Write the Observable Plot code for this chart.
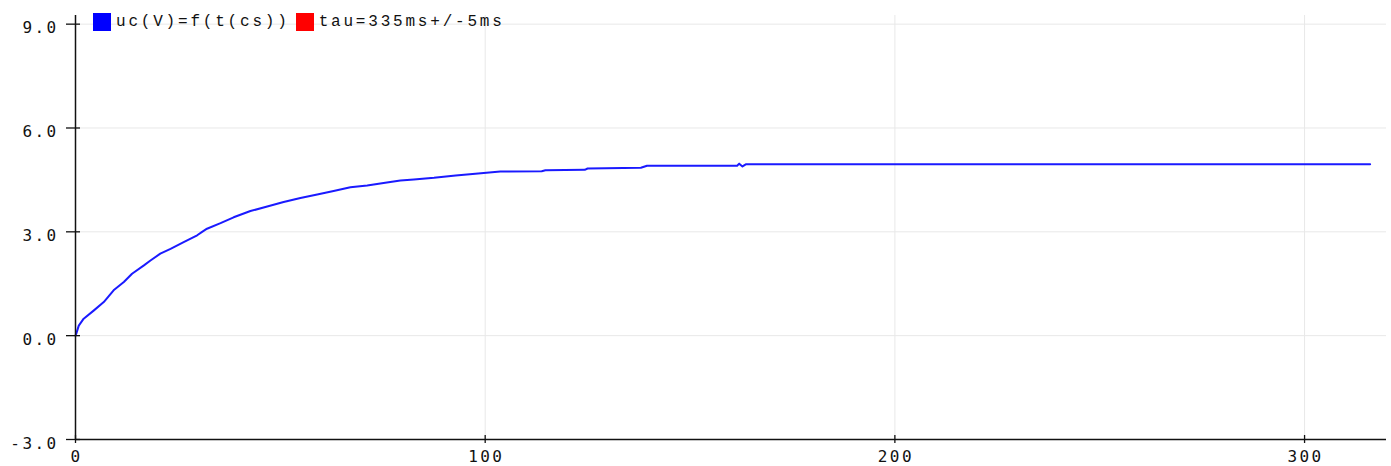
<!DOCTYPE html>
<html><head><meta charset="utf-8">
<script src="https://cdn.jsdelivr.net/npm/d3@7"></script>
<script src="https://cdn.jsdelivr.net/npm/@observablehq/plot@0.6"></script>
<style>
body{margin:0;background:#fff;}
#wrap{position:relative;width:1391px;height:466px;}
#legend{position:absolute;left:93px;top:13px;display:flex;align-items:center;font-family:"Liberation Mono",monospace;font-size:16px;letter-spacing:2.8px;color:#111;height:18px;}
.sw{width:18px;height:18px;display:inline-block;margin-right:5px;}
.lab{margin-right:6px;}
svg text{letter-spacing:2.4px;}
</style></head><body><div id="wrap"><div id="legend"></div></div>
<script>
const t = [0, 0.25, 0.8, 2.0, 4.5, 6.9, 9.3, 11.8, 13.8, 16.7, 18.3, 20.7, 23.2, 26.4, 29.7, 30.9, 32.1, 35.4, 38.6, 42.7, 46.8, 50.8, 54.9, 59.0, 63.0, 67.1, 71.2, 75.2, 79.3, 82.6, 87.5, 92.8, 97.6, 103.7, 113.8, 114.7, 124.3, 125.0, 138.0, 139.5, 161.5, 162.0, 162.8, 163.6, 316];
const uc = [0, 0.08, 0.29, 0.49, 0.73, 0.97, 1.31, 1.55, 1.79, 2.03, 2.17, 2.37, 2.51, 2.70, 2.90, 3.0, 3.09, 3.25, 3.42, 3.60, 3.73, 3.86, 3.98, 4.08, 4.18, 4.29, 4.34, 4.41, 4.48, 4.51, 4.56, 4.63, 4.68, 4.74, 4.75, 4.78, 4.79, 4.83, 4.85, 4.91, 4.91, 4.97, 4.89, 4.95, 4.95];
const xTicks = [0, 100, 200, 300];
const yTicks = [-3, 0, 3, 6, 9];
const seriesNames = ["uc(V)=f(t(cs))", "tau=335ms+/-5ms"];
const seriesColors = ["#0000ff", "#ff0000"];

const data = t.map((d, i) => ({t: d, uc: uc[i]}));
const axisColor = "#111";
const chart = Plot.plot({
  width: 1391, height: 466,
  marginLeft: 75, marginRight: 5, marginTop: 15, marginBottom: 27,
  style: {fontFamily: '"DejaVu Sans Mono", monospace', fontSize: "16px", color: "#111", background: "#fff"},
  x: {domain: [0, 320]},
  y: {domain: [-3, 9.25]},
  marks: [
    Plot.gridX(xTicks.slice(1), {stroke: "#e8e8e8", strokeOpacity: 1}),
    Plot.gridY(yTicks.slice(1), {stroke: "#e8e8e8", strokeOpacity: 1}),
    Plot.line(data, {x: "t", y: "uc", stroke: "#1a1aff", strokeWidth: 2}),
    Plot.ruleX([0], {stroke: axisColor, strokeWidth: 1.5}),
    Plot.ruleY([-3], {stroke: axisColor, strokeWidth: 1.5}),
    Plot.axisY(yTicks, {tickSize: 14, dx: 5, fill: "none", stroke: axisColor, strokeWidth: 1.3, label: null}),
    Plot.axisY(yTicks, {tickSize: 0, tickPadding: 17, dy: 4, tickFormat: d => d.toFixed(1), fill: "#111", label: null}),
    Plot.axisX(xTicks, {tickSize: 8, dy: -4, fill: "none", stroke: axisColor, strokeWidth: 1.3, label: null}),
    Plot.axisX(xTicks, {tickSize: 0, tickPadding: 11, dx: 1, tickFormat: d => String(d), fill: "#111", label: null})
  ]
});
const wrap = document.getElementById("wrap");
wrap.insertBefore(chart, wrap.firstChild);
const legend = document.getElementById("legend");
seriesNames.forEach((n, i) => {
  const s = document.createElement("span"); s.className = "sw"; s.style.background = seriesColors[i];
  const l = document.createElement("span"); l.className = "lab"; l.textContent = n;
  legend.appendChild(s); legend.appendChild(l);
});
</script></body></html>
